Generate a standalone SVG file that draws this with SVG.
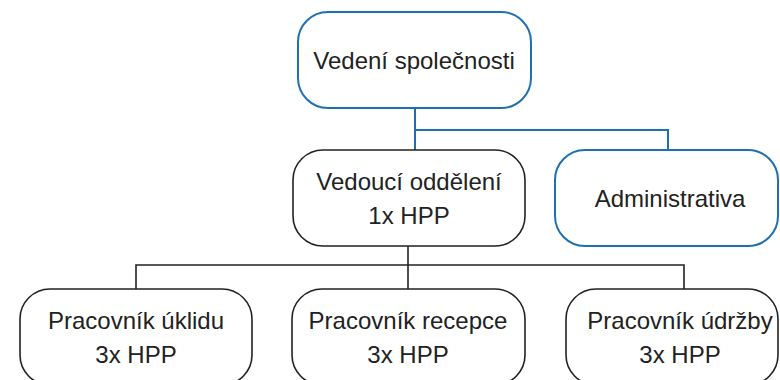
<svg xmlns="http://www.w3.org/2000/svg" width="780" height="380" viewBox="0 0 780 380">
<style>
  .blue { fill: #ffffff; stroke: #1f70b0; stroke-width: 2; }
  .black { fill: #ffffff; stroke: #222222; stroke-width: 1.6; }
  .lblue { fill: none; stroke: #1f70b0; stroke-width: 2; }
  .lblack { fill: none; stroke: #222222; stroke-width: 1.6; }
  text { font-family: "Liberation Sans", Arial, sans-serif; font-size: 24px; fill: #222222; text-anchor: middle; }
</style>
<rect width="780" height="380" fill="#ffffff"/>
<g id="connectors">
  <path class="lblue" d="M415 108 V150 M415 130 H668 V150"/>
  <path class="lblack" d="M408 246 V265 M136 289 V265 H684 V289 M408 265 V289"/>
</g>
<g id="vedeni">
  <rect class="blue" x="298" y="12" width="233" height="96" rx="30"/>
  <text x="414" y="69">Vedení společnosti</text>
</g>
<g id="vedouci">
  <rect class="black" x="293" y="150" width="232" height="96" rx="30"/>
  <text x="409" y="190">Vedoucí oddělení</text>
  <text x="409" y="224">1x HPP</text>
</g>
<g id="administrativa">
  <rect class="blue" x="555" y="150" width="223" height="96" rx="30"/>
  <text x="670" y="207">Administrativa</text>
</g>
<g id="uklid">
  <rect class="black" x="20" y="289" width="232" height="96" rx="30"/>
  <text x="136" y="329">Pracovník úklidu</text>
  <text x="136" y="363">3x HPP</text>
</g>
<g id="recepce">
  <rect class="black" x="292" y="289" width="233" height="96" rx="30"/>
  <text x="408" y="329">Pracovník recepce</text>
  <text x="408" y="363">3x HPP</text>
</g>
<g id="udrzba">
  <rect class="black" x="566" y="289" width="212" height="96" rx="30"/>
  <text x="680" y="329">Pracovník údržby</text>
  <text x="680" y="363">3x HPP</text>
</g>
</svg>
